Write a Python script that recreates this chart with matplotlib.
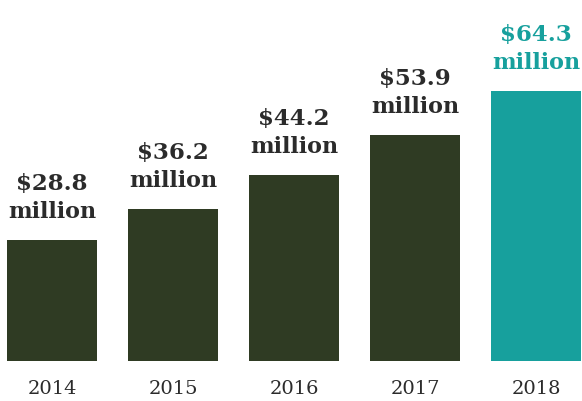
import matplotlib
matplotlib.use("Agg")
import matplotlib.pyplot as plt

years = ["2014", "2015", "2016", "2017", "2018"]
values = [28.8, 36.2, 44.2, 53.9, 64.3]
value_labels = ["$28.8", "$36.2", "$44.2", "$53.9", "$64.3"]
unit_label = "million"

dark = "#2f3b23"
teal = "#17a09d"
text_dark = "#2b2b2b"
bar_colors = [dark, dark, dark, dark, teal]
label_colors = [text_dark, text_dark, text_dark, text_dark, teal]

W, H, DPI = 582, 402, 100
fig = plt.figure(figsize=(W / DPI, H / DPI), dpi=DPI)
ax = fig.add_axes([0, 0, 1, 1])

px_per_unit = 4.2
base_px = 40          # bar baseline above the bottom edge
first_center = 52     # centre of first bar in pixels
spacing = 121
ax.set_ylim(-base_px / px_per_unit, (H - base_px) / px_per_unit)
ax.set_xlim(-first_center / spacing, (W - first_center) / spacing)
ax.axis("off")

x = list(range(len(years)))
ax.bar(x, values, width=90 / spacing, color=bar_colors, edgecolor="none")

pt = 72 / DPI  # pixels to points
for i, (v, lab, c) in enumerate(zip(values, value_labels, label_colors)):
    ax.annotate(unit_label, (i, v), xytext=(0, 23 * pt), textcoords="offset points",
                ha="center", va="baseline", fontsize=16, fontweight="bold",
                family="DejaVu Serif", color=c)
    ax.annotate(lab, (i, v), xytext=(0, 51 * pt), textcoords="offset points",
                ha="center", va="baseline", fontsize=16.5, fontweight="bold",
                family="DejaVu Serif", color=c)
    ax.annotate(years[i], (i, 0), xytext=(0, -32 * pt), textcoords="offset points",
                ha="center", va="baseline", fontsize=14,
                family="DejaVu Serif", color=text_dark)

fig.savefig("out.png", dpi=DPI, facecolor="white")
